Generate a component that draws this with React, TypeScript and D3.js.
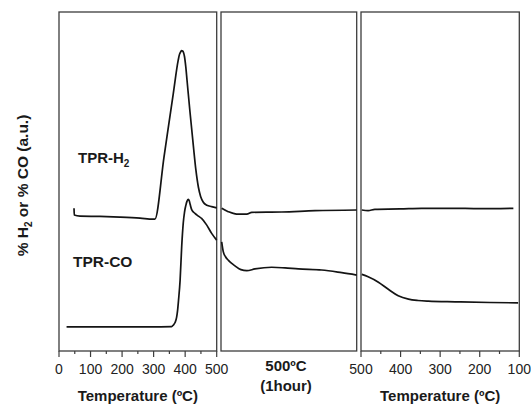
import React from "react";
import * as d3 from "d3";

// ---- data ----
// Panel 1: heating ramp (temperature, ºC) ; Panel 2: isothermal 500ºC hold (minutes) ; Panel 3: cooling (temperature, ºC)
const h2RampT = [47.6, 48.5, 66.6, 130, 193, 257, 298, 304, 333, 362, 378, 382, 386, 389, 392, 395, 398, 402, 406, 415, 426, 434, 442, 449, 457.5, 469, 484, 500];
const h2RampV = [42.1, 40.1, 39.8, 39.7, 39.5, 39.2, 38.9, 38.9, 57.3, 75.7, 85.8, 87.5, 88.3, 88.6, 88.5, 88.0, 86.8, 83.8, 79.8, 70.8, 60.5, 53.4, 48.3, 45.6, 43.9, 43.0, 42.6, 42.2];
const coRampT = [24, 130, 288, 357, 362, 368, 373, 376, 379, 384, 389, 394, 398, 402, 406, 410, 413, 416, 421, 431, 442, 452, 468, 484, 500];
const coRampV = [7.1, 7.1, 7.1, 7.2, 7.6, 8.4, 10.0, 12.0, 15.0, 20.9, 30.8, 37.8, 41.0, 42.9, 44.2, 44.7, 44.3, 43.2, 41.6, 40.6, 39.8, 39.1, 37.2, 34.7, 32.7];

const h2HoldT = [0.3, 3.2, 6.9, 11.4, 13.6, 26.8, 41.6, 60];
const h2HoldV = [42.1, 41.1, 40.4, 40.4, 40.9, 41.0, 41.4, 41.6];
const coHoldT = [0.3, 1.0, 2.0, 3.2, 4.6, 6.2, 8.8, 11.4, 15.0, 22.4, 28.3, 34.2, 44.5, 53.4, 60];
const coHoldV = [32.2, 29.3, 27.8, 26.8, 25.9, 25.1, 24.0, 23.7, 24.2, 24.7, 24.5, 24.2, 23.9, 23.1, 22.4];

const h2CoolT = [498, 482, 465, 401, 347, 275, 199, 115];
const h2CoolV = [41.6, 41.4, 41.8, 41.9, 42.1, 42.1, 42.0, 42.1];
const coCoolT = [498, 482, 456, 431, 406, 380, 356, 330, 262, 174, 103];
const coCoolV = [22.6, 21.9, 20.3, 18.2, 16.3, 15.3, 14.9, 14.7, 14.5, 14.3, 14.2];

const rampTicks = [0, 100, 200, 300, 400, 500];
const rampMinor = [50, 150, 250, 350, 450];
const coolTicks = [500, 400, 300, 200, 100];
const coolMinor = [450, 350, 250, 150];

const seriesLabels = ["TPR-H", "TPR-CO"];
const xTitle = "Temperature (ºC)";
const holdTitle = ["500ºC", "(1hour)"];

// ---- layout ----
const W = 531, H = 405;
const top = 12, bottom = 351;
const p1 = [59, 216.7];
const p2 = [221, 356.7];
const p3 = [361, 519.3];

const y = d3.scaleLinear().domain([0, 100]).range([bottom, top]);
const x1 = d3.scaleLinear().domain([0, 500]).range(p1);
const x2 = d3.scaleLinear().domain([0, 60]).range(p2);
const x3 = d3.scaleLinear().domain([500, 100]).range(p3);

const zip = (a: number[], b: number[]) => a.map((v, i) => [v, b[i]] as [number, number]);

function path(xs: d3.ScaleLinear<number, number>, t: number[], v: number[]) {
  const sorted = zip(t, v).sort((a, b) => xs(a[0]) - xs(b[0]));
  return d3.line<[number, number]>().x(d => xs(d[0])).y(d => y(d[1])).curve(d3.curveMonotoneX)(sorted) || "";
}

const font = "'Liberation Sans', Arial, sans-serif";
const frame = "#3c3c3c";
const ink = "#141414";

export default function App() {
  const panels = [p1, p2, p3];
  return (
    <svg width={W} height={H} style={{ position: "absolute", left: 0, top: 0, background: "#fff" }} fontFamily={font}>
      {panels.map((p, i) => (
        <rect key={i} x={p[0]} y={top} width={p[1] - p[0]} height={bottom - top} fill="none" stroke={frame} strokeWidth={1.3} />
      ))}
      {rampTicks.map(t => (
        <g key={"a" + t}>
          <line x1={x1(t)} x2={x1(t)} y1={bottom} y2={bottom + 6} stroke={frame} strokeWidth={1.2} />
          <text x={x1(t)} y={374} fontSize={14} textAnchor="middle" fill="#222">{t}</text>
        </g>
      ))}
      {rampMinor.map(t => (
        <line key={"am" + t} x1={x1(t)} x2={x1(t)} y1={bottom} y2={bottom + 3} stroke={frame} strokeWidth={1.2} />
      ))}
      {coolTicks.map(t => (
        <g key={"c" + t}>
          <line x1={x3(t)} x2={x3(t)} y1={bottom} y2={bottom + 6} stroke={frame} strokeWidth={1.2} />
          <text x={x3(t)} y={374} fontSize={14} textAnchor="middle" fill="#222">{t}</text>
        </g>
      ))}
      {coolMinor.map(t => (
        <line key={"cm" + t} x1={x3(t)} x2={x3(t)} y1={bottom} y2={bottom + 3} stroke={frame} strokeWidth={1.2} />
      ))}

      <g fill="none" stroke={ink} strokeWidth={1.7} strokeLinejoin="round">
        <path d={path(x1, h2RampT, h2RampV)} />
        <path d={path(x1, coRampT, coRampV)} />
        <path d={path(x2, h2HoldT, h2HoldV)} />
        <path d={path(x2, coHoldT, coHoldV)} />
        <path d={path(x3, h2CoolT, h2CoolV)} />
        <path d={path(x3, coCoolT, coCoolV)} />
      </g>

      <text x={78} y={163} fontSize={15} fontWeight="bold" fill="#1a1a1a">
        {seriesLabels[0]}
        <tspan fontSize={10} dy={4}>2</tspan>
      </text>
      <text x={73} y={267} fontSize={15.5} fontWeight="bold" fill="#1a1a1a">{seriesLabels[1]}</text>

      <text x={(p1[0] + p1[1]) / 2} y={401} fontSize={15} fontWeight="bold" textAnchor="middle" fill="#1a1a1a">{xTitle}</text>
      <text x={(p3[0] + p3[1]) / 2} y={401} fontSize={15} fontWeight="bold" textAnchor="middle" fill="#1a1a1a">{xTitle}</text>
      <text x={286} y={371} fontSize={15} fontWeight="bold" textAnchor="middle" fill="#1a1a1a">{holdTitle[0]}</text>
      <text x={286} y={391} fontSize={15} fontWeight="bold" textAnchor="middle" fill="#1a1a1a">{holdTitle[1]}</text>

      <text transform="translate(28,185.5) rotate(-90)" fontSize={15.5} fontWeight="bold" textAnchor="middle" fill="#1a1a1a">
        % H<tspan fontSize={10} dy={4}>2</tspan><tspan dy={-4}> or % CO (a.u.)</tspan>
      </text>
    </svg>
  );
}
